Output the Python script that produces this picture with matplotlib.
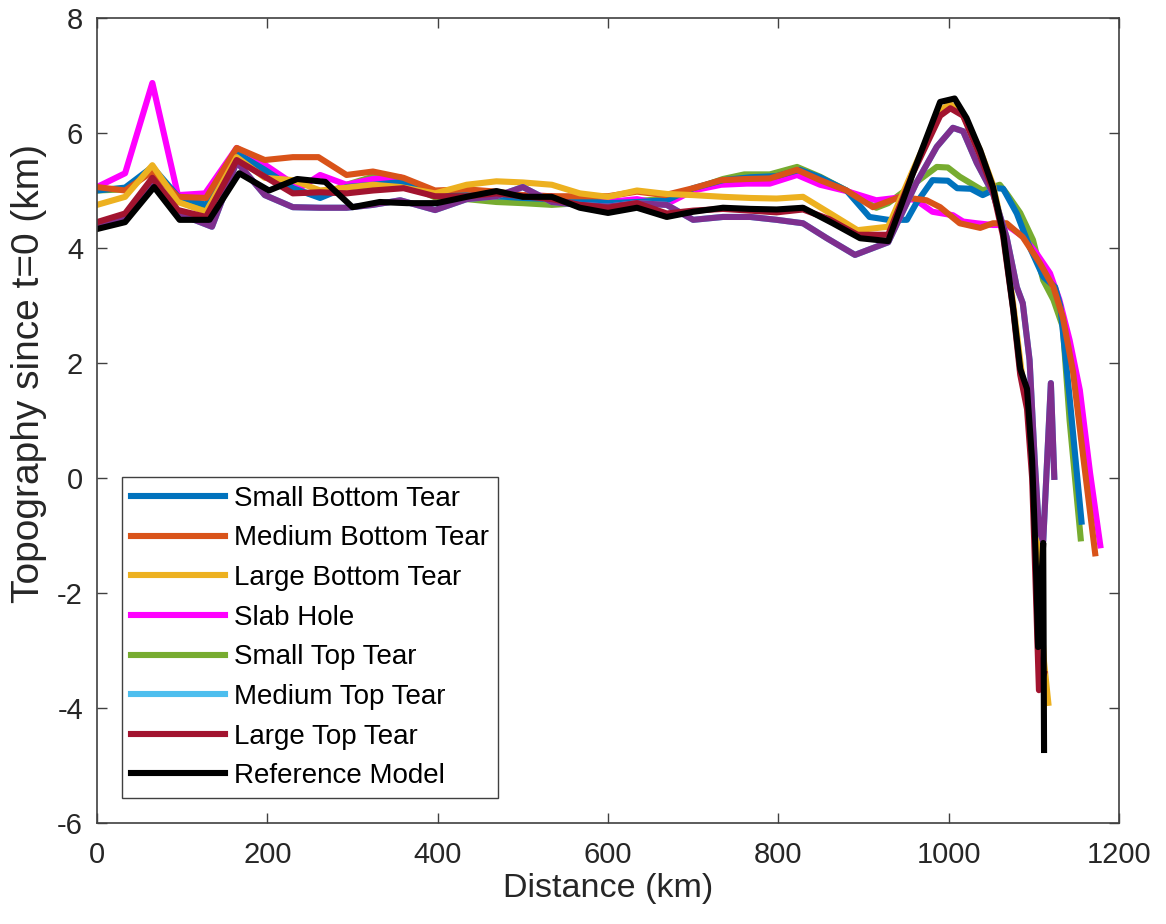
import matplotlib

matplotlib.use("Agg")

import matplotlib.pyplot as plt
from matplotlib.lines import Line2D

OUTPUT_PNG = "out.png"

# --- data (distance km, topography km) ---
small_bottom_x = [0, 33, 65, 95, 128, 164, 197, 230, 262, 293, 324, 360, 397, 434, 469, 500,
                  534, 567, 600, 634, 669, 700, 735, 767, 798, 825, 849, 880, 907, 929, 951,
                  962, 981, 999, 1010, 1026, 1040, 1057, 1064, 1080, 1095, 1111, 1125, 1131,
                  1142, 1156]
small_bottom_y = [5.0, 5.05, 5.41, 4.9, 4.75, 5.65, 5.36, 5.04, 4.87, 5.06, 5.1, 5.15, 4.94,
                  4.92, 4.9, 4.87, 4.85, 4.83, 4.78, 4.8, 4.83, 5.04, 5.18, 5.23, 5.25, 5.36,
                  5.23, 5.0, 4.54, 4.49, 4.49, 4.78, 5.18, 5.17, 5.04, 5.03, 4.92, 5.04, 5.03,
                  4.6, 4.02, 3.5, 3.32, 3.0, 1.4, -0.76]

medium_bottom_x = [0, 33, 65, 95, 128, 164, 197, 230, 260, 293, 324, 360, 397, 434, 469, 500,
                   534, 567, 600, 634, 667, 700, 733, 763, 790, 822, 849, 880, 911, 943, 974,
                   990, 1013, 1037, 1052, 1068, 1087, 1107, 1123, 1134, 1146, 1158, 1172]
medium_bottom_y = [5.06, 5.0, 5.33, 4.89, 4.87, 5.74, 5.53, 5.58, 5.58, 5.27, 5.33, 5.22, 5.0,
                   5.02, 4.98, 4.92, 4.9, 4.9, 4.9, 4.98, 4.92, 5.04, 5.18, 5.2, 5.21, 5.36,
                   5.18, 5.0, 4.71, 4.89, 4.83, 4.71, 4.43, 4.35, 4.43, 4.43, 4.19, 3.74, 3.32,
                   2.8, 1.85, 0.37, -1.31]

large_bottom_x = [0, 33, 65, 95, 128, 164, 197, 230, 262, 293, 324, 356, 397, 434, 469, 500,
                  534, 567, 600, 634, 669, 700, 735, 767, 798, 829, 860, 893, 929, 958, 990,
                  1002, 1017, 1037, 1052, 1064, 1076, 1086, 1094, 1100, 1106, 1112, 1117]
large_bottom_y = [4.75, 4.89, 5.44, 4.8, 4.63, 5.58, 5.22, 5.18, 5.0, 5.05, 5.1, 5.06, 4.95,
                  5.1, 5.16, 5.14, 5.1, 4.95, 4.89, 5.0, 4.94, 4.92, 4.89, 4.87, 4.86, 4.89,
                  4.61, 4.31, 4.37, 5.35, 6.4, 6.5, 6.3, 5.7, 5.1, 4.3, 3.0, 1.8, 1.3, 0.0,
                  -1.8, -3.2, -3.91]

slab_hole_x = [0, 33, 65, 95, 127, 164, 197, 238, 262, 293, 324, 356, 397, 434, 469, 500,
               534, 567, 600, 634, 667, 700, 733, 763, 790, 822, 849, 880, 915, 943, 962, 981,
               1005, 1017, 1033, 1052, 1068, 1087, 1103, 1119, 1130, 1142, 1154, 1166, 1178]
slab_hole_y = [5.06, 5.3, 6.87, 4.92, 4.95, 5.74, 5.45, 5.04, 5.27, 5.1, 5.2, 5.23, 4.95, 4.9,
               4.95, 4.92, 4.9, 4.83, 4.8, 4.85, 4.75, 5.0, 5.1, 5.12, 5.12, 5.27, 5.1, 4.99,
               4.83, 4.88, 4.83, 4.63, 4.57, 4.46, 4.43, 4.4, 4.4, 4.2, 3.91, 3.56, 3.1, 2.4,
               1.53, 0.09, -1.17]

small_top_x = [0, 33, 65, 95, 128, 164, 197, 230, 262, 293, 324, 356, 397, 434, 469, 500, 534,
               567, 600, 634, 669, 700, 735, 760, 790, 822, 849, 880, 915, 929, 958, 986, 999,
               1013, 1040, 1060, 1068, 1084, 1099, 1111, 1123, 1134, 1142, 1155]
small_top_y = [5.0, 5.02, 5.38, 4.85, 4.7, 5.6, 5.3, 5.02, 4.9, 5.1, 5.24, 5.15, 4.88, 4.85,
               4.8, 4.78, 4.75, 4.78, 4.8, 4.82, 4.85, 5.02, 5.2, 5.28, 5.28, 5.41, 5.24, 5.0,
               4.7, 4.78, 5.1, 5.41, 5.4, 5.24, 5.0, 5.1, 4.95, 4.61, 4.14, 3.44, 3.1, 2.63,
               1.0, -1.05]

medium_top_x = [0, 33, 65, 95, 135, 164, 197, 230, 262, 293, 324, 356, 397, 434, 469, 500, 534,
                567, 600, 634, 669, 700, 735, 767, 798, 829, 857, 890, 929, 962, 986, 1005,
                1017, 1033, 1052, 1068, 1080, 1087, 1095, 1101, 1106, 1111, 1120, 1124]
medium_top_y = [4.4, 4.55, 5.15, 4.6, 4.37, 5.5, 4.92, 4.71, 4.7, 4.7, 4.75, 4.83, 4.66, 4.85,
                4.9, 5.06, 4.8, 4.75, 4.72, 4.78, 4.75, 4.49, 4.54, 4.54, 4.49, 4.43, 4.17,
                3.88, 4.1, 5.13, 5.76, 6.09, 6.03, 5.48, 4.95, 4.19, 3.32, 3.04, 2.05, 0.31,
                -0.9, -1.1, 1.65, 0.02]

large_top_x = [0, 33, 65, 95, 128, 164, 197, 230, 262, 293, 324, 360, 397, 434, 469, 500, 534,
               567, 600, 634, 669, 700, 735, 767, 798, 829, 860, 893, 929, 958, 990, 1002, 1017,
               1037, 1052, 1064, 1076, 1084, 1092, 1098, 1102, 1106, 1112]
large_top_y = [4.45, 4.6, 5.22, 4.66, 4.54, 5.53, 5.24, 4.95, 4.97, 4.95, 5.0, 5.04, 4.9, 4.9,
               4.95, 4.9, 4.85, 4.75, 4.7, 4.78, 4.6, 4.65, 4.68, 4.65, 4.62, 4.67, 4.5, 4.23,
               4.23, 5.3, 6.3, 6.43, 6.3, 5.6, 5.0, 4.2, 2.9, 1.8, 1.2, 0.0, -1.8, -3.69, -3.4]

reference_x = [0, 33, 67, 97, 132, 167, 202, 235, 268, 300, 332, 364, 399, 434, 469, 500, 534,
               567, 600, 634, 669, 700, 735, 767, 798, 829, 864, 896, 929, 958, 990, 1007, 1021,
               1037, 1052, 1064, 1076, 1084, 1092, 1098, 1102, 1105, 1111, 1112]
reference_y = [4.33, 4.45, 5.06, 4.49, 4.49, 5.3, 5.0, 5.2, 5.15, 4.71, 4.8, 4.78, 4.78, 4.89,
               4.99, 4.89, 4.89, 4.7, 4.61, 4.7, 4.54, 4.63, 4.7, 4.68, 4.67, 4.7, 4.43, 4.17,
               4.12, 5.3, 6.54, 6.6, 6.26, 5.7, 5.06, 4.26, 2.92, 1.9, 1.55, 0.3, -1.3, -2.94,
               -1.13, -4.73]

LEGEND_LABELS = [
    "Small Bottom Tear",
    "Medium Bottom Tear",
    "Large Bottom Tear",
    "Slab Hole",
    "Small Top Tear",
    "Medium Top Tear",
    "Large Top Tear",
    "Reference Model",
]

COLORS = {
    "Small Bottom Tear": "#0072BD",
    "Medium Bottom Tear": "#D95319",
    "Large Bottom Tear": "#EDB120",
    "Slab Hole": "#FF00FF",
    "Small Top Tear": "#77AC30",
    "Medium Top Tear": "#4DBEEE",
    "Large Top Tear": "#A2142F",
    "Reference Model": "#000000",
}
PURPLE = "#7E2F8E"

TEXT_COLOR = "#262626"
AXIS_COLOR = "#404040"
LW = 4.4


def build_chart() -> None:
    plt.rcParams["font.family"] = ["Liberation Sans", "DejaVu Sans"]
    plt.rcParams["axes.unicode_minus"] = False

    fig = plt.figure(figsize=(11.66, 9.24), dpi=100)
    ax = fig.add_axes([97 / 1166, 1 - 823 / 924, 1022 / 1166, 805 / 924])

    series = {
        "Small Top Tear": (small_top_x, small_top_y),
        "Slab Hole": (slab_hole_x, slab_hole_y),
        "Small Bottom Tear": (small_bottom_x, small_bottom_y),
        "Medium Bottom Tear": (medium_bottom_x, medium_bottom_y),
        "Large Bottom Tear": (large_bottom_x, large_bottom_y),
        "Medium Top Tear": (medium_top_x, medium_top_y),
        "Large Top Tear": (large_top_x, large_top_y),
        "Reference Model": (reference_x, reference_y),
    }

    for name, (xs, ys) in series.items():
        ax.plot(xs, ys, color=COLORS[name], lw=LW, solid_joinstyle="round")
        if name == "Medium Top Tear":
            # drawn again in purple in the original figure
            ax.plot(xs, ys, color=PURPLE, lw=LW, solid_joinstyle="round")

    ax.set_xlim(0, 1200)
    ax.set_ylim(-6, 8)
    ax.set_xticks(range(0, 1201, 200))
    ax.set_yticks(range(-6, 9, 2))

    for spine in ax.spines.values():
        spine.set_color(AXIS_COLOR)
        spine.set_linewidth(1.2)
    ax.tick_params(direction="in", length=7, width=1.0, color=AXIS_COLOR,
                   top=True, right=True, labelsize=21, labelcolor=TEXT_COLOR)
    ax.tick_params(axis="x", pad=13)
    ax.tick_params(axis="y", pad=10)

    ax.set_xlabel("Distance (km)", fontsize=24.5, color=TEXT_COLOR, labelpad=3)
    ax.set_ylabel("Topography since t=0 (km)", fontsize=28, color=TEXT_COLOR)
    ax.yaxis.set_label_coords(-0.049, 0.558)

    handles = [Line2D([], [], color=COLORS[name], lw=LW) for name in LEGEND_LABELS]
    leg = ax.legend(handles, LEGEND_LABELS, loc="lower left",
                    bbox_to_anchor=(0.0245, 0.031), borderaxespad=0,
                    fontsize=20, handlelength=3.4, handletextpad=0.32,
                    labelspacing=0.49, borderpad=0.32, fancybox=False,
                    framealpha=1, edgecolor=AXIS_COLOR)
    leg.get_frame().set_linewidth(1.0)
    for text in leg.get_texts():
        text.set_color("black")

    fig.savefig(OUTPUT_PNG, dpi=100)
    plt.close(fig)


def main() -> None:
    build_chart()
    print(f"PNG saved to: {OUTPUT_PNG}")


if __name__ == "__main__":
    main()
